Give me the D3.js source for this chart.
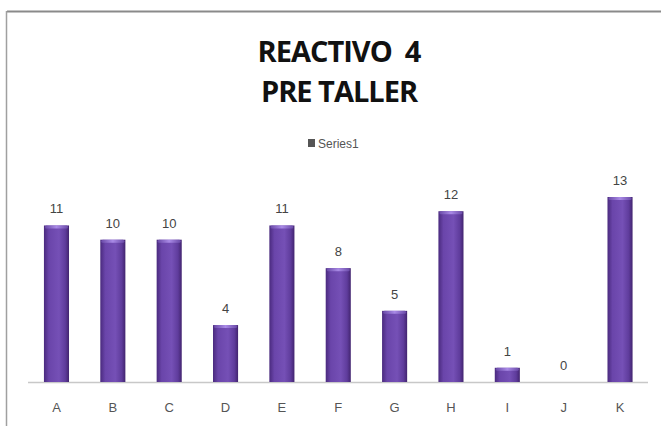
<!DOCTYPE html>
<html><head><meta charset="utf-8">
<script src="https://cdn.jsdelivr.net/npm/d3@7"></script>
<style>body{margin:0;background:#fff}svg{display:block}</style>
</head><body>
<svg id="c" width="661" height="426"></svg>
<script>
const categories = ["A","B","C","D","E","F","G","H","I","J","K"];
const values = [11,10,10,4,11,8,5,12,1,0,13];
const seriesName = "Series1";
const titleLines = ["REACTIVO  4","PRE TALLER"];

const svg = d3.select("#c");
const W = 661, H = 426;
const baseY = 382;

// frame
svg.append("line").attr("x1",7).attr("x2",W).attr("y1",11.5).attr("y2",11.5).attr("stroke","#8a8a8a").attr("stroke-width",2);
svg.append("line").attr("x1",6.5).attr("x2",6.5).attr("y1",11).attr("y2",H).attr("stroke","#a0a0a0").attr("stroke-width",1.5);

const x = d3.scaleBand().domain(categories).range([28.3, 648.2]).paddingInner(0.555).paddingOuter(0.2775);
const y = d3.scaleLinear().domain([0, 13]).range([baseY, 197]);

const defs = svg.append("defs");
const g = defs.append("linearGradient").attr("id","bg").attr("x1","0").attr("x2","1").attr("y1","0").attr("y2","0");
g.append("stop").attr("offset","0").attr("stop-color","#4a2a7e");
g.append("stop").attr("offset","0.2").attr("stop-color","#6a45aa");
g.append("stop").attr("offset","0.6").attr("stop-color","#7550b6");
g.append("stop").attr("offset","0.85").attr("stop-color","#5f3c9c");
g.append("stop").attr("offset","1").attr("stop-color","#42246f");
const g2 = defs.append("linearGradient").attr("id","tg").attr("x1","0").attr("x2","1").attr("y1","0").attr("y2","0");
g2.append("stop").attr("offset","0").attr("stop-color","#6a4aa8");
g2.append("stop").attr("offset","0.5").attr("stop-color","#a98ae6");
g2.append("stop").attr("offset","1").attr("stop-color","#6a4aa8");

// baseline
svg.append("line").attr("x1",28).attr("x2",648).attr("y1",baseY+0.5).attr("y2",baseY+0.5).attr("stroke","#c8c8c8").attr("stroke-width",1.5);

const bars = svg.append("g");
categories.forEach((c,i)=>{
  const v = values[i];
  if (v > 0) {
    bars.append("rect").attr("x",x(c)).attr("y",y(v)).attr("width",x.bandwidth()).attr("height",baseY - y(v)).attr("fill","url(#bg)");
    bars.append("rect").attr("x",x(c)+1).attr("y",y(v)).attr("width",x.bandwidth()-2).attr("height",3).attr("fill","url(#tg)").attr("rx",1.5);
  }
  svg.append("text").attr("x",x(c)+x.bandwidth()/2).attr("y",y(v)-12)
    .attr("text-anchor","middle").attr("font-family","Liberation Sans, Arial, sans-serif").attr("font-size",13).attr("fill","#444").text(v);
});

// x axis
const xa = svg.append("g").attr("transform",`translate(0,${baseY})`).call(d3.axisBottom(x).tickSize(0).tickPadding(21));
xa.select(".domain").remove();
xa.selectAll("text").attr("font-family","Liberation Sans, Arial, sans-serif").attr("font-size",13).attr("fill","#555");

// title
titleLines.forEach((t,i)=>{
  svg.append("text").attr("x",339).attr("y",62 + i*40).attr("text-anchor","middle")
    .attr("font-family","Open Sans, sans-serif").attr("font-weight","bold").attr("font-size",29)
    .attr("fill","#111").attr("letter-spacing","-1").style("white-space","pre").text(t);
});

// legend
svg.append("rect").attr("x",308).attr("y",139).attr("width",7).attr("height",8).attr("fill","#555");
svg.append("text").attr("x",318).attr("y",148).attr("font-family","Liberation Sans, Arial, sans-serif").attr("font-size",12).attr("fill","#555").text(seriesName);
</script>
</body></html>
